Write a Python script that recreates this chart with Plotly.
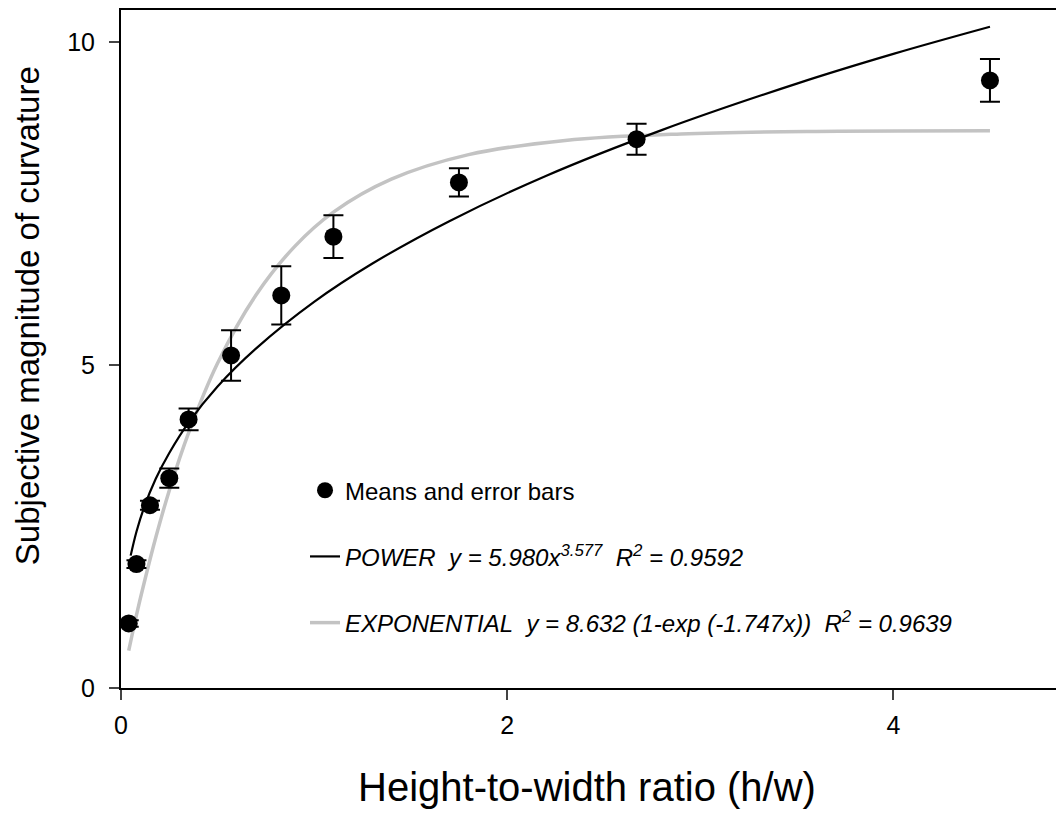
import plotly.graph_objects as go

# Means and error bars
x_means = [0.04, 0.08, 0.15, 0.25, 0.35, 0.57, 0.83, 1.10, 1.75, 2.67, 4.50]
y_means = [1.00, 1.92, 2.83, 3.25, 4.16, 5.15, 6.08, 6.99, 7.83, 8.50, 9.41]
err_means = [0.05, 0.06, 0.07, 0.15, 0.17, 0.39, 0.45, 0.33, 0.22, 0.24, 0.33]

# Power fit curve
x_power = [0.05, 0.08, 0.12, 0.18, 0.25, 0.35, 0.50, 0.70, 1.00, 1.30, 1.70, 2.20, 2.80, 3.50, 4.00, 4.50]
y_power = [2.05, 2.42, 2.80, 3.24, 3.64, 4.11, 4.67, 5.26, 5.98, 6.57, 7.23, 7.93, 8.64, 9.36, 9.82, 10.24]

# Exponential fit curve
x_expo = [0.04, 0.08, 0.12, 0.18, 0.25, 0.35, 0.50, 0.70, 0.90, 1.10, 1.40, 1.80, 2.30, 2.90, 3.60, 4.50]
y_expo = [0.58, 1.13, 1.63, 2.33, 3.06, 3.95, 5.03, 6.09, 6.84, 7.37, 7.88, 8.26, 8.48, 8.58, 8.62, 8.63]

x_ticks = [0, 2, 4]
y_ticks = [0, 5, 10]

legend_means = "Means and error bars"
legend_power = "<i>POWER\u00a0\u00a0y = 5.980x<sup>3.577</sup>\u00a0\u00a0R<sup>2</sup> = 0.9592</i>"
legend_expo = "<i>EXPONENTIAL\u00a0\u00a0y = 8.632 (1-exp (-1.747x))\u00a0\u00a0R<sup>2</sup> = 0.9639</i>"

FONT = "Liberation Sans, Arial, sans-serif"

fig = go.Figure()
fig.add_trace(go.Scatter(
    x=x_expo, y=y_expo, mode="lines", name=legend_expo,
    line=dict(color="#c3c3c3", width=3.5, shape="spline"),
    legendgroup="c", legendrank=3,
))
fig.add_trace(go.Scatter(
    x=x_power, y=y_power, mode="lines", name=legend_power,
    line=dict(color="black", width=2.2, shape="spline"),
    legendgroup="b", legendrank=2,
))
fig.add_trace(go.Scatter(
    x=x_means, y=y_means, mode="markers", name=legend_means,
    marker=dict(color="black", size=18),
    error_y=dict(type="data", array=err_means, color="black", thickness=2, width=10),
    legendgroup="a", legendrank=1,
))

fig.update_layout(
    width=1048, height=803,
    margin=dict(l=113, r=0, t=0, b=123),
    paper_bgcolor="white", plot_bgcolor="white",
    font=dict(family=FONT, color="black", size=24),
    showlegend=True,
    legend=dict(
        x=0.1968, y=0.3243, xanchor="left", yanchor="top",
        bgcolor="rgba(0,0,0,0)", font=dict(size=24, family=FONT),
        traceorder="grouped", tracegroupgap=32,
    ),
    xaxis=dict(
        range=[0, 4.842], tickvals=x_ticks, ticks="outside", ticklen=10, tickwidth=2,
        showline=True, linecolor="black", linewidth=2, mirror=True,
        showgrid=False, zeroline=False, tickfont=dict(size=25, family=FONT),
        ticklabelstandoff=4,
    ),
    yaxis=dict(
        range=[0, 10.5], tickvals=y_ticks, ticks="outside", ticklen=10, tickwidth=2,
        showline=True, linecolor="black", linewidth=2,
        showgrid=False, zeroline=False, tickfont=dict(size=25, family=FONT),
        ticklabelstandoff=9,
    ),
    annotations=[
        dict(text="Height-to-width ratio (h/w)", xref="paper", yref="paper",
             x=0.4984, y=-0.1456, xanchor="center", yanchor="middle",
             showarrow=False, font=dict(size=40, family=FONT)),
        dict(text="Subjective magnitude of curvature", xref="paper", yref="paper",
             x=-0.1005, y=0.5485, xanchor="center", yanchor="middle", textangle=-90,
             showarrow=False, font=dict(size=33, family=FONT)),
    ],
)

fig.write_html("out.html")
